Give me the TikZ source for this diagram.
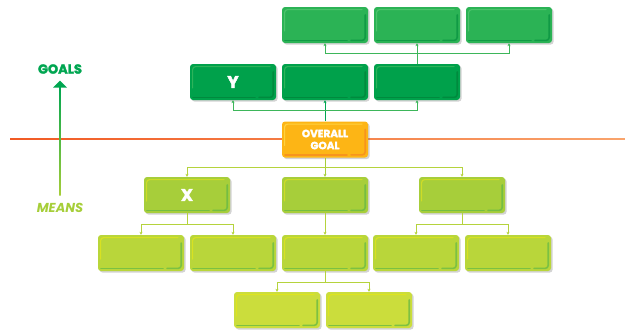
\documentclass[tikz,border=0pt]{standalone}
\usepackage{fontspec}
\setmainfont{Poppins}[BoldFeatures={FakeBold=2.4}]
\usetikzlibrary{shadows,calc,arrows.meta}
\definecolor{gA}{HTML}{2BB355}
\definecolor{gAd}{HTML}{109A45}
\definecolor{gAl}{HTML}{4CC36C}
\definecolor{gB}{HTML}{00A14B}
\definecolor{gBd}{HTML}{008A3E}
\definecolor{gBl}{HTML}{2DB35A}
\definecolor{oG}{HTML}{FDB515}
\definecolor{oGd}{HTML}{F7941D}
\definecolor{oGl}{HTML}{FFD23F}
\definecolor{lA}{HTML}{A7CE3A}
\definecolor{lAd}{HTML}{74BD43}
\definecolor{lAl}{HTML}{CEDC27}
\definecolor{lB}{HTML}{B9D63A}
\definecolor{lBd}{HTML}{7BC142}
\definecolor{lBl}{HTML}{D8E122}
\definecolor{lC}{HTML}{CBDD3C}
\definecolor{lCd}{HTML}{7DC142}
\definecolor{lCl}{HTML}{DEE41F}
\definecolor{topline}{HTML}{3DB65A}
\definecolor{lowline}{HTML}{B5D33D}
\definecolor{goalsc}{HTML}{00A651}
\definecolor{meansc}{HTML}{A6CE39}
\definecolor{orL}{HTML}{F15A24}
\definecolor{orR}{HTML}{F9A46C}
\tikzset{
  gbox/.style n args={3}{fill=#1, rounded corners=3pt, minimum width=86pt,
    minimum height=36pt, inner sep=0pt, text=white,
    drop shadow={shadow xshift=1.6pt, shadow yshift=-1.6pt, opacity=0.35, fill=gray},
    path picture={
      \coordinate (@sw) at (path picture bounding box.south west);
      \coordinate (@ne) at (path picture bounding box.north east);
      \coordinate (@se) at (path picture bounding box.south east);
      \coordinate (@nw) at (path picture bounding box.north west);
      \draw[#3, line width=1.2pt, line cap=round]
        ($(@sw)+(2.6pt,12pt)$) -- ($(@nw)+(2.6pt,-2.6pt)$) -- ($(@ne)+(-6pt,-2.6pt)$);
      \draw[#2, line width=1.6pt, line cap=round]
        ($(@sw)+(3pt,2.6pt)$) -- ($(@se)+(-21pt,2.6pt)$);
      \draw[#2, line width=1.6pt, line cap=round]
        ($(@se)+(-17pt,2.6pt)$) -- ($(@se)+(-2.8pt,2.6pt)$) -- ($(@ne)+(-2.8pt,-8pt)$);
    }},
  conn/.style={draw=#1, line width=0.9pt, -{Stealth[length=3pt,width=3pt]}},
  bus/.style={draw=#1, line width=0.9pt},
  bigletter/.style={font=\bfseries\fontsize{17}{17}\selectfont}
}
\begin{document}
\begin{tikzpicture}[x=1pt,y=-1pt]
\useasboundingbox (0,0) rectangle (625,332);
% orange divider
\shade[left color=orL, right color=orR] (10,138.5) rectangle (625,139.7);
% goals / means arrow
\shade[bottom color=meansc, top color=goalsc] (59.4,195) rectangle (60.6,86);
\fill[goalsc] (53,87.5) -- (67,87.5) -- (60,80.5) -- cycle;
\node[text=goalsc, font=\bfseries\fontsize{13}{13}\selectfont] (goals) at (60,69) {GOALS};
\node[text=meansc, font=\bfseries\itshape\fontsize{13}{13}\selectfont] (means) at (60,208) {MEANS};
% top row
\node[gbox={gA}{gAd}{gAl}] (t1) at (325,25) {};
\node[gbox={gA}{gAd}{gAl}] (t2) at (417,25) {};
\node[gbox={gA}{gAd}{gAl}] (t3) at (509,25) {};
% second row
\node[gbox={gB}{gBd}{gBl}, bigletter] (y) at (233,82) {Y};
\node[gbox={gB}{gBd}{gBl}] (r2b) at (325,82) {};
\node[gbox={gB}{gBd}{gBl}] (r2c) at (417,82) {};
% overall goal
\node[gbox={oG}{oGd}{oGl}, align=center, font=\bfseries\fontsize{10.5}{12}\selectfont] (og) at (325,139.5) {OVERALL\\GOAL};
% means rows
\node[gbox={lA}{lAd}{lAl}, bigletter] (x) at (187,195) {X};
\node[gbox={lA}{lAd}{lAl}] (r3b) at (325,195) {};
\node[gbox={lA}{lAd}{lAl}] (r3c) at (462,195) {};
\node[gbox={lB}{lBd}{lBl}] (r4a) at (141,253) {};
\node[gbox={lB}{lBd}{lBl}] (r4b) at (233,253) {};
\node[gbox={lB}{lBd}{lBl}] (r4c) at (325,253) {};
\node[gbox={lB}{lBd}{lBl}] (r4d) at (416,253) {};
\node[gbox={lB}{lBd}{lBl}] (r4e) at (508,253) {};
\node[gbox={lC}{lCd}{lCl}] (r5a) at (277,310) {};
\node[gbox={lC}{lCd}{lCl}] (r5b) at (369,310) {};
% connectors: goals
\coordinate (bus1) at (417,53);
\draw[conn=topline] (r2c.north) -- (t2.south);
\draw[conn=topline] (bus1) -| (t1.south);
\draw[conn=topline] (bus1) -| (t3.south);
\coordinate (bus2) at (325,110);
\draw[conn=goalsc] (og.north) -- (r2b.south);
\draw[conn=topline] (bus2) -| (y.south);
\draw[conn=topline] (bus2) -| (r2c.south);
% connectors: means
\coordinate (bus3) at (325,167);
\draw[conn=meansc] (og.south) -- (r3b.north);
\draw[conn=lowline] (bus3) -| (x.north);
\draw[conn=lowline] (bus3) -| (r3c.north);
\coordinate (bus4) at (187,224);
\draw[bus=lowline] (x.south) -- (bus4);
\draw[conn=lowline] (bus4) -| (r4a.north);
\draw[conn=lowline] (bus4) -| (r4b.north);
\draw[conn=lowline] (r3b.south) -- (r4c.north);
\coordinate (bus5) at (462,224);
\draw[bus=lowline] (r3c.south) -- (bus5);
\draw[conn=lowline] (bus5) -| (r4d.north);
\draw[conn=lowline] (bus5) -| (r4e.north);
\coordinate (bus6) at (325,282);
\draw[bus=lowline] (r4c.south) -- (bus6);
\draw[conn=lowline] (bus6) -| (r5a.north);
\draw[conn=lowline] (bus6) -| (r5b.north);
\end{tikzpicture}
\end{document}
